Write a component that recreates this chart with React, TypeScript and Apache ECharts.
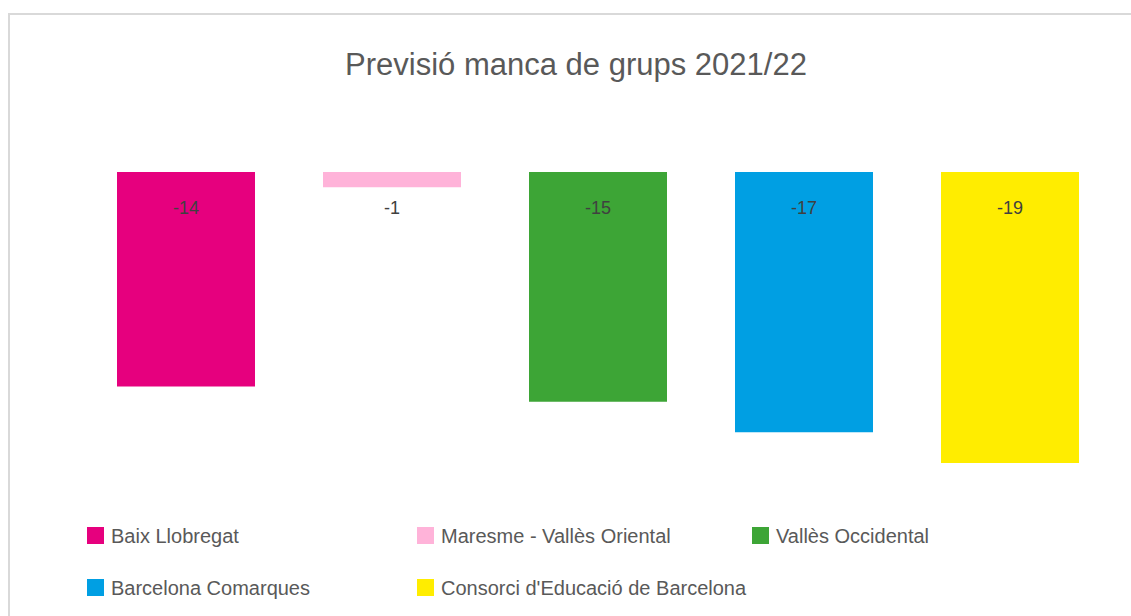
import React, { useEffect, useRef } from "react";
import * as echarts from "echarts";

const titleText = "Previsió manca de grups 2021/22";
const seriesNames = [
  "Baix Llobregat",
  "Maresme - Vallès Oriental",
  "Vallès Occidental",
  "Barcelona Comarques",
  "Consorci d'Educació de Barcelona",
];
const seriesValues = [-14, -1, -15, -17, -19];
const seriesColors = ["#E6007E", "#FFB3D9", "#3DA536", "#009FE3", "#FFED00"];
const legendLeft = [87, 417, 752, 87, 417];
const legendTop = [525.5, 525.5, 525.5, 577.5, 577.5];

const FONT = "'Liberation Sans', Arial, sans-serif";

export default function App() {
  const ref = useRef<HTMLDivElement>(null);
  useEffect(() => {
    if (!ref.current) return;
    const chart = echarts.init(ref.current, null, { renderer: "svg" });
    const option = {
      animation: false,
      backgroundColor: "#ffffff",
      textStyle: { fontFamily: FONT },
      title: {
        text: titleText,
        left: 576,
        textAlign: "center",
        top: 49,
        padding: 0,
        textStyle: {
          fontFamily: FONT,
          fontSize: 31,
          fontWeight: "normal",
          color: "#595959",
        },
      },
      graphic: [
        {
          type: "rect",
          shape: { x: 9, y: 14, width: 1200, height: 700 },
          style: { fill: "none", stroke: "#d9d9d9", lineWidth: 2 },
          silent: true,
        },
      ],
      grid: { left: 83, right: 18, top: 172, bottom: 137.7, containLabel: false },
      xAxis: {
        type: "category",
        data: seriesNames,
        show: false,
      },
      yAxis: {
        type: "value",
        min: -20,
        max: 0,
        show: false,
        splitLine: { show: false },
      },
      legend: seriesNames.map((name, i) => ({
        data: [name],
        left: legendLeft[i],
        top: legendTop[i],
        padding: 0,
        icon: "rect",
        itemWidth: 17,
        itemHeight: 17,
        selectedMode: false,
        textStyle: {
          fontFamily: FONT,
          fontSize: 20,
          lineHeight: 20,
          color: "#595959",
          padding: [0, 0, 0, 2],
        },
      })),
      series: seriesNames.map((name, i) => ({
        name,
        type: "bar",
        barWidth: 138,
        barGap: "-100%",
        itemStyle: { color: seriesColors[i] },
        data: seriesValues.map((v, j) => (j === i ? v : "-")),
        label: {
          show: true,
          position: "insideTop",
          distance: 27,
          fontFamily: FONT,
          fontSize: 18,
          color: "#404040",
        },
      })),
    };
    chart.setOption(option as any);
    return () => chart.dispose();
  }, []);
  return (
    <div
      ref={ref}
      style={{ position: "fixed", left: 0, top: 0, width: 1131, height: 616 }}
    />
  );
}
